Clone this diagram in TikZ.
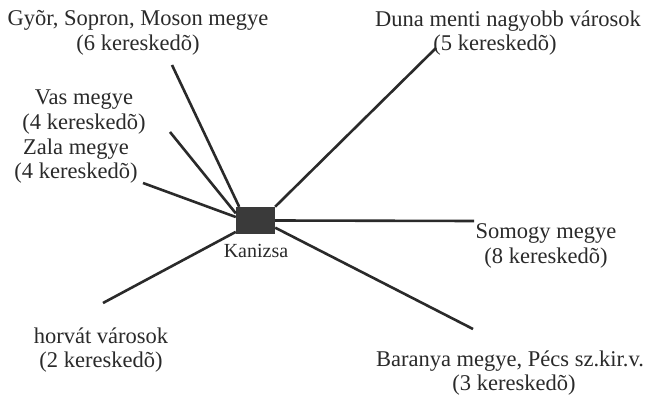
\documentclass[tikz,border=0pt]{standalone}
\usepackage{fontspec}
\setmainfont{Liberation Serif}
\definecolor{ink}{HTML}{2A2A2A}
\definecolor{boxfill}{HTML}{3A3A3A}
\begin{document}
\begin{tikzpicture}[x=1pt,y=-1pt,
  lbl/.style={align=center,inner sep=0pt,text=ink,font=\fontsize{22.5}{24.5}\selectfont},
  link/.style={draw=ink,line width=2.6pt},
  hub/.style={draw=none,fill=boxfill,minimum width=39pt,minimum height=27pt,inner sep=0pt}]
\useasboundingbox[fill=white] (0,0) rectangle (645,395);
\node[hub] (kan) at (255.5,220.5) {};
\node[lbl,font=\fontsize{20}{22}\selectfont,anchor=base] (kanlbl) at (256,258) {Kanizsa};

\node[lbl] (gyor) at (138,33) {Gyõr, Sopron, Moson megye\\(6 kereskedõ)};
\node[lbl] (vas) at (84,112) {Vas megye\\(4 kereskedõ)};
\node[lbl] (zala) at (76,161) {Zala megye\\(4 kereskedõ)};
\node[lbl] (duna) at (508,33) {Duna menti nagyobb városok\\(5 kereskedõ)\hspace*{26pt}};
\node[lbl] (somogy) at (546,246) {Somogy megye\\(8 kereskedõ)};
\node[lbl] (horvat) at (101,350) {horvát városok\\(2 kereskedõ)};
\node[lbl] (baranya) at (510,373) {Baranya megye, Pécs sz.kir.v.\\\hspace*{8pt}(3 kereskedõ)};

\coordinate (cgyor) at (172,65);
\coordinate (cvas) at (170,132);
\coordinate (czala) at (143,183);
\coordinate (cduna) at (436,48);
\coordinate (csomogy) at (474,221);
\coordinate (chorvat) at (103,303);
\coordinate (cbaranya) at (473,329);

\draw[link] (cgyor) -- (kan.140);
\draw[link] (cvas) -- (kan.160);
\draw[link] (czala) -- (kan.170);
\draw[link] (chorvat) -- (kan.210);
\draw[link] (cduna) -- (kan.35);
\draw[link] (kan.east) -- (csomogy);
\draw[link] (kan.-20) -- (cbaranya);
\end{tikzpicture}
\end{document}
